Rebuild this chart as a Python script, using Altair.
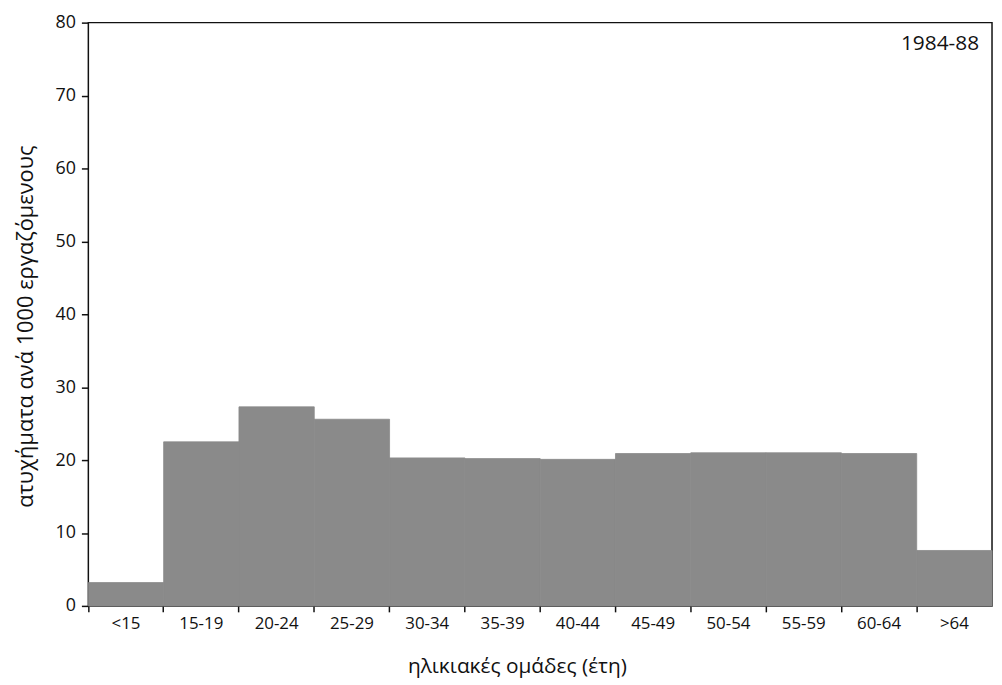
import altair as alt
import pandas as pd

age_groups = ["<15", "15-19", "20-24", "25-29", "30-34", "35-39", "40-44",
              "45-49", "50-54", "55-59", "60-64", ">64"]
rates = [3.2, 22.5, 27.3, 25.6, 20.3, 20.2, 20.1, 20.9, 21.0, 21.0, 20.9, 7.6]
y_ticks = [0, 10, 20, 30, 40, 50, 60, 70, 80]
period_label = "1984-88"

df = pd.DataFrame({"age": age_groups, "rate": rates})

FONT = "Open Sans"
TXT = "#111111"
BAR = "#8a8a8a"

xscale = alt.Scale(domain=age_groups, paddingInner=0, paddingOuter=0)
yscale = alt.Scale(domain=[0, 80], nice=False)

yaxis = alt.Axis(values=y_ticks, title="ατυχήματα ανά 1000 εργαζόμενους",
                 tickSize=7, tickColor="#111", tickWidth=1.5,
                 domain=False, grid=False, labelPadding=6,
                 labelFontSize=18, labelColor=TXT, labelFont=FONT,
                 titleFontSize=22, titleFont=FONT, titleColor=TXT,
                 titleFontWeight="normal", titleX=-63, titleY=306,
                 titleBaseline="middle")

base = alt.Chart(df)

bars = base.mark_bar(color=BAR, stroke=BAR, strokeWidth=0.8).encode(
    x=alt.X("age:N", sort=age_groups, scale=xscale,
            axis=alt.Axis(title="ηλικιακές ομάδες (έτη)", labelAngle=0, orient="bottom",
                          ticks=False, domain=False, labelPadding=10,
                          labelFontSize=17, labelColor=TXT, labelFont=FONT,
                          titleFontSize=21, titleFont=FONT, titleColor=TXT,
                          titleFontWeight="normal", titleX=432, titleY=61,
                          titleBaseline="middle")),
    y=alt.Y("rate:Q", scale=yscale, axis=yaxis),
)

tick_layer = base.mark_bar(opacity=0).encode(
    x=alt.X("age:N", sort=age_groups, scale=xscale,
            axis=alt.Axis(bandPosition=0, orient="bottom", labels=False, ticks=True,
                          tickSize=6, tickColor="#111", tickWidth=1.5, domain=False,
                          title=None)),
    y=alt.Y("rate:Q", scale=yscale, axis=yaxis),
)

label = alt.Chart(pd.DataFrame({"t": [period_label]})).mark_text(
    align="right", baseline="middle", fontSize=21, font=FONT, color=TXT
).encode(text="t:N", x=alt.value(898), y=alt.value(22))

chart = alt.layer(bars, tick_layer, label).resolve_axis(x="independent", y="shared").properties(
    width=911, height=588,
    autosize=alt.AutoSizeParams(type="none"),
    padding={"left": 81, "top": 12, "right": 2, "bottom": 77},
).configure(
    background="white",
    view=alt.ViewConfig(stroke="#111111", strokeWidth=1.5),
)

chart.save("out.html", embed_options={"renderer": "svg", "actions": False})
